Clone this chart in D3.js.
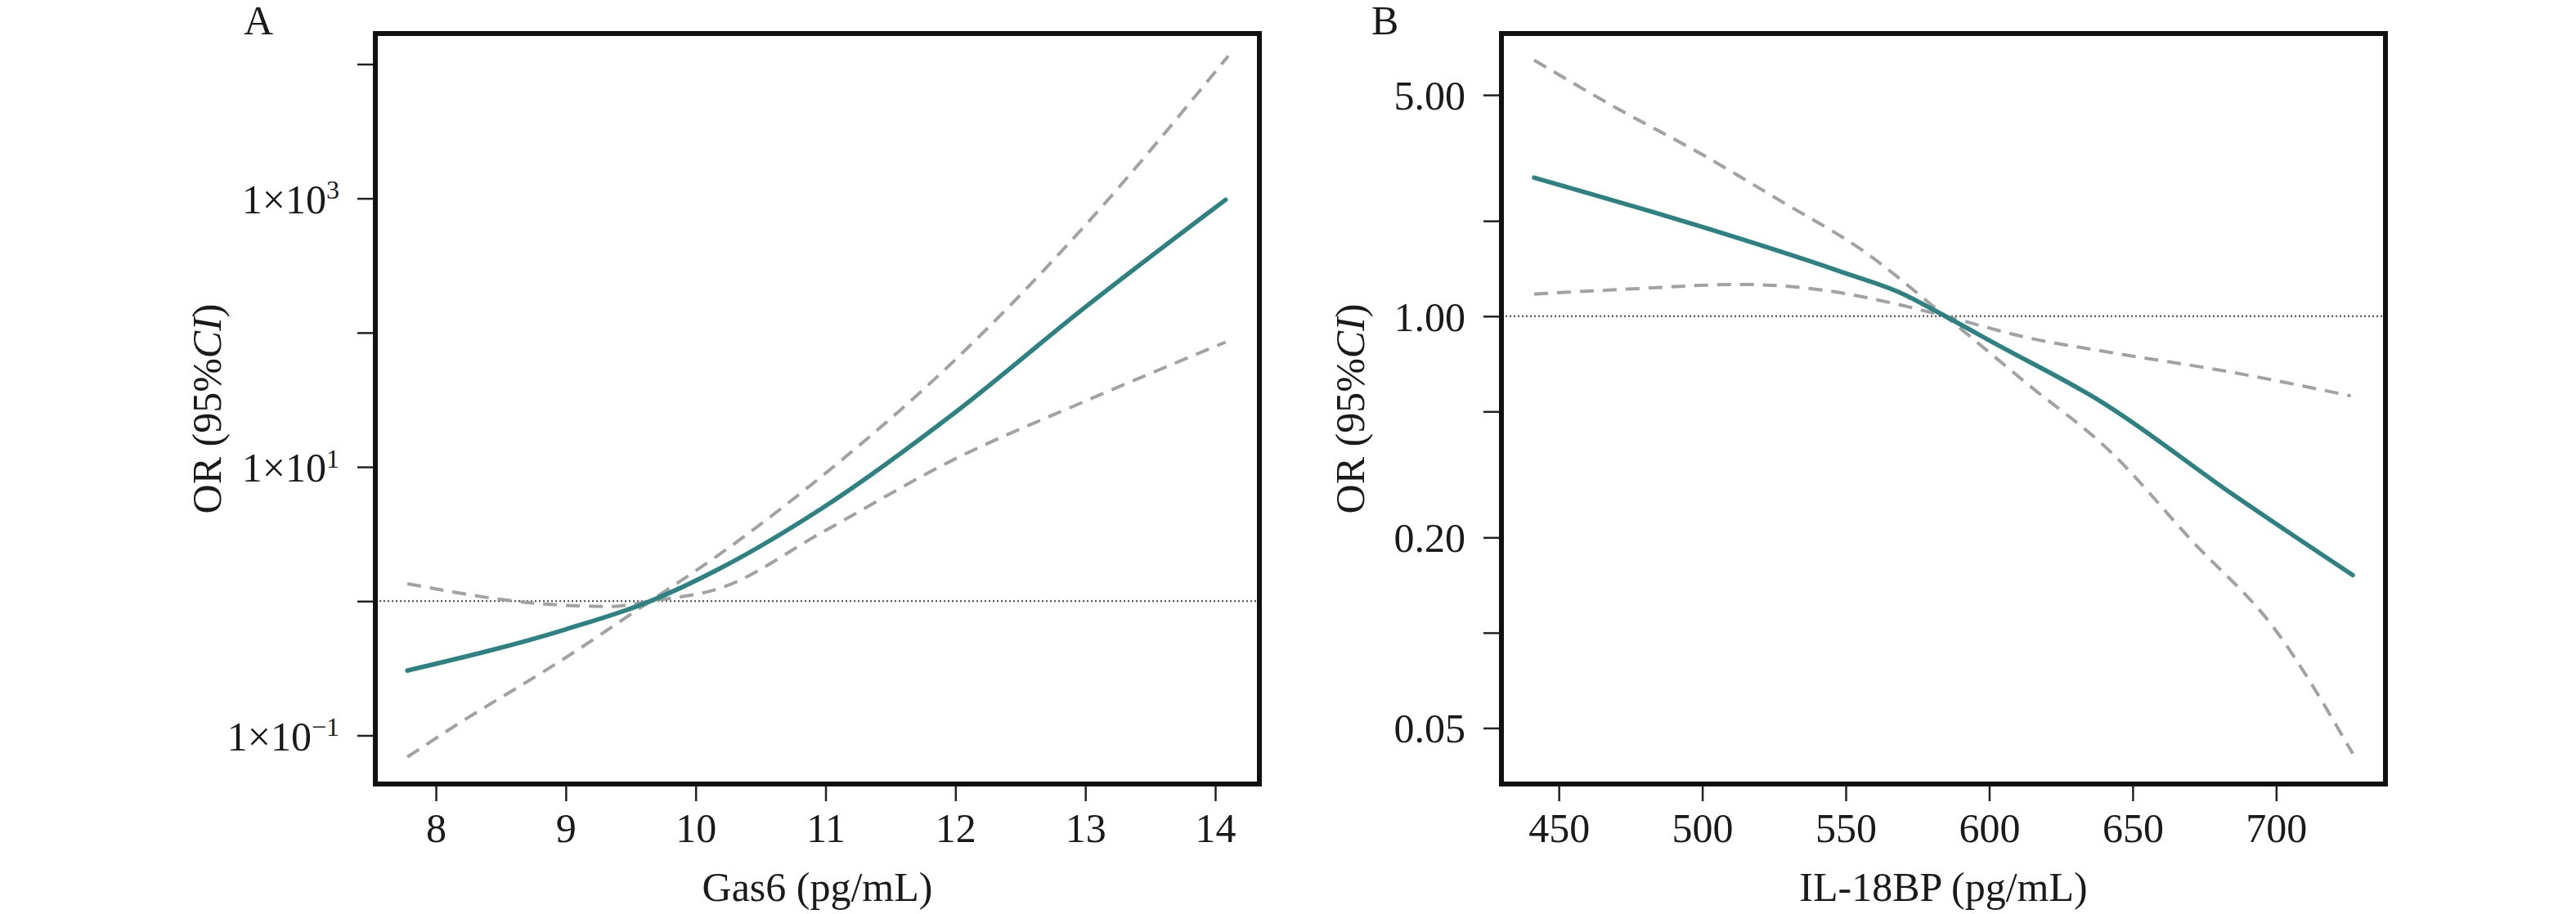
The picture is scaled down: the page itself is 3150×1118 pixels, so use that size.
<!DOCTYPE html>
<html><head><meta charset="utf-8">
<script src="https://cdn.jsdelivr.net/npm/d3@7"></script>
<style>body{margin:0;background:#fff}text{font-family:"Liberation Serif","DejaVu Serif",serif;fill:#1a1a1a}</style>
</head><body>
<svg id="chart" width="3150" height="1118"></svg>
<script>
// Panel A: Gas6, values are OR
const gasX = [7.78, 9.0, 9.65, 10.2, 10.97, 11.99, 13.0, 14.08];
const gasOR = [0.304, 0.617, 1, 1.78, 4.9, 25.1, 155, 977];
const gasUpX = [7.78, 8.13, 9.0, 9.65, 10.2, 10.97, 12.0, 13.0, 14.1];
const gasUp = [0.069, 0.115, 0.38, 1, 2.29, 8.5, 63, 631, 11500];
const gasLoX = [7.78, 8.82, 9.33, 9.65, 10.2, 10.97, 12.0, 13.0, 14.08];
const gasLo = [1.35, 0.955, 0.912, 1, 1.26, 3.24, 11.5, 30.9, 85];
const gasTicksX = [8, 9, 10, 11, 12, 13, 14];
const gasTicksY = [1e-1, 1, 1e1, 1e2, 1e3, 1e4];
const gasLabelPow = [-1, 1, 3];

// Panel B: IL-18BP
const ilX = [441.4, 498.7, 547.5, 570, 584.7, 602, 639, 685, 726.7];
const ilOR = [2.74, 1.93, 1.39, 1.175, 1, 0.82, 0.537, 0.273, 0.152];
const ilUpX = [441.4, 470, 498.7, 527.4, 556, 584.7, 613.4, 642, 670.7, 699.4, 726.7];
const ilUp = [6.44, 4.55, 3.29, 2.31, 1.61, 1, 0.61, 0.375, 0.195, 0.103, 0.0415];
const ilLoX = [441.4, 475.8, 513, 541.7, 570, 584.7, 613.4, 642, 685, 726];
const ilLo = [1.175, 1.22, 1.26, 1.21, 1.08, 1, 0.855, 0.769, 0.664, 0.56];
const ilTicksX = [450, 500, 550, 600, 650, 700];
const ilTicksY = [0.05, 0.1, 0.2, 0.5, 1, 2, 5];
const ilLabels = [0.05, 0.2, 1, 5];

const svg = d3.select('#chart');
const plotTop = 41, plotBottom = 959;

function panel(cfg) {
    const x = d3.scaleLinear().domain(cfg.xDomain).range([cfg.left, cfg.right]);
    const y = d3.scaleLog().domain(cfg.yDomain).range([plotBottom, plotTop]);
    const g = svg.append('g');

    const line = (xs) => d3.line()
        .x((d, i) => x(xs[i]))
        .y(d => y(d))
        .curve(d3.curveMonotoneX);

    // reference line at OR = 1
    g.append('line')
        .attr('x1', cfg.left).attr('x2', cfg.right)
        .attr('y1', y(1)).attr('y2', y(1))
        .attr('stroke', '#444').attr('stroke-width', 2).attr('stroke-dasharray', '2,3');

    [[cfg.upX, cfg.up], [cfg.loX, cfg.lo]].forEach(([xs, vs]) => {
        g.append('path').datum(vs)
            .attr('d', line(xs))
            .attr('fill', 'none').attr('stroke', '#a2a2a2')
            .attr('stroke-width', 4).attr('stroke-dasharray', '17,11');
    });

    g.append('path').datum(cfg.or)
        .attr('d', line(cfg.x))
        .attr('fill', 'none').attr('stroke', '#2d8180')
        .attr('stroke-width', 5.5).attr('stroke-linecap', 'round');

    // x axis
    const xa = g.append('g').attr('transform', `translate(0,${plotBottom})`)
        .call(d3.axisBottom(x).tickValues(cfg.xTicks).tickSize(21).tickPadding(14).tickFormat(d3.format('d')));
    xa.select('.domain').remove();
    xa.selectAll('line').attr('stroke', '#222').attr('stroke-width', 2.5);
    xa.selectAll('text').attr('font-size', 50).attr('font-family', '"Liberation Serif",serif').attr('fill', '#1a1a1a');

    // y axis
    const ya = g.append('g').attr('transform', `translate(${cfg.left},0)`)
        .call(d3.axisLeft(y).tickValues(cfg.yTicks).tickSize(22).tickPadding(20).tickFormat(''));
    ya.select('.domain').remove();
    ya.selectAll('line').attr('stroke', '#222').attr('stroke-width', 2.5);
    ya.selectAll('.tick').each(function (d) {
        if (!cfg.labelY(d)) return;
        const t = d3.select(this).append('text')
            .attr('x', -44).attr('dy', '0.35em').attr('text-anchor', 'end')
            .attr('font-size', 50).attr('font-family', '"Liberation Serif",serif').attr('fill', '#1a1a1a');
        cfg.writeLabel(t, d);
    });

    // frame
    g.append('rect')
        .attr('x', cfg.left).attr('y', plotTop)
        .attr('width', cfg.right - cfg.left).attr('height', plotBottom - plotTop)
        .attr('fill', 'none').attr('stroke', '#111').attr('stroke-width', 6);

    // titles
    const yt = g.append('text')
        .attr('transform', `translate(${cfg.yTitleX},${(plotTop + plotBottom) / 2}) rotate(-90)`)
        .attr('text-anchor', 'middle').attr('font-size', 50);
    yt.append('tspan').text('OR (95%');
    yt.append('tspan').attr('font-style', 'italic').text('CI');
    yt.append('tspan').text(')');

    g.append('text')
        .attr('x', (cfg.left + cfg.right) / 2).attr('y', 1102)
        .attr('text-anchor', 'middle').attr('font-size', 50).text(cfg.xTitle);

    g.append('text').attr('x', cfg.letterX).attr('y', 42)
        .attr('font-size', 50).text(cfg.letter);
}

panel({
    left: 459, right: 1540, xDomain: [7.534, 14.34], yDomain: [Math.pow(10, -1.362), Math.pow(10, 4.228)],
    x: gasX, or: gasOR, upX: gasUpX, up: gasUp, loX: gasLoX, lo: gasLo,
    xTicks: gasTicksX, yTicks: gasTicksY,
    labelY: d => gasLabelPow.includes(Math.round(Math.log10(d))),
    writeLabel: (t, d) => {
        const p = Math.round(Math.log10(d));
        t.append('tspan').text('1×10');
        t.append('tspan').attr('dy', '-0.55em').attr('font-size', 32).text(p < 0 ? '−' + (-p) : p);
    },
    yTitleX: 270, xTitle: 'Gas6 (pg/mL)', letter: 'A', letterX: 298
});

panel({
    left: 1836, right: 2917, xDomain: [430, 738.1], yDomain: [Math.pow(10, -1.478), Math.pow(10, 0.893)],
    x: ilX, or: ilOR, upX: ilUpX, up: ilUp, loX: ilLoX, lo: ilLo,
    xTicks: ilTicksX, yTicks: ilTicksY,
    labelY: d => ilLabels.includes(d),
    writeLabel: (t, d) => t.text(d3.format('.2f')(d)),
    yTitleX: 1668, xTitle: 'IL-18BP (pg/mL)', letter: 'B', letterX: 1677
});
</script>
</body></html>
